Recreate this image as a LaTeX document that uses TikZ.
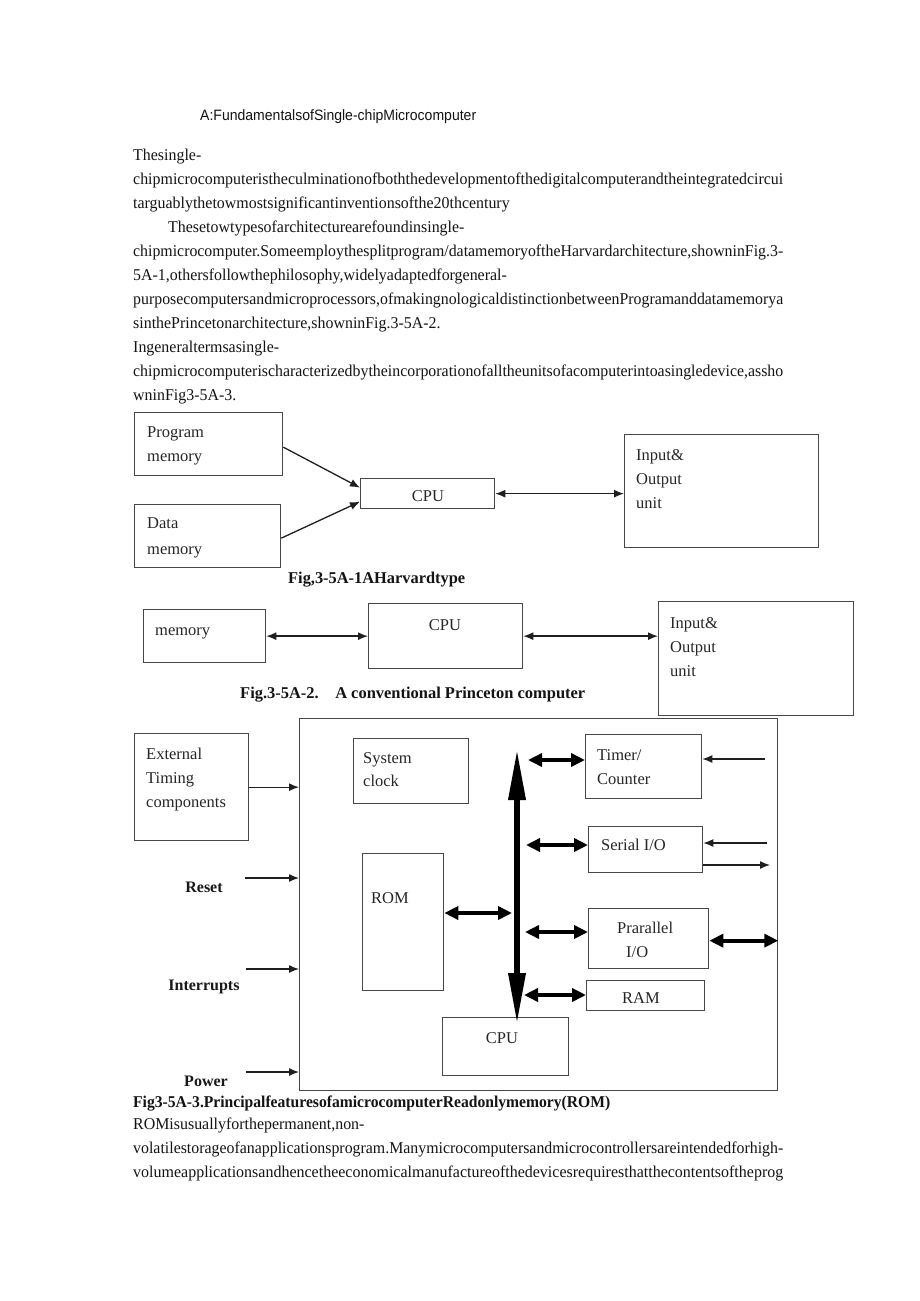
\documentclass[tikz,border=0pt]{standalone}
\usepackage{fontspec}
\usepackage{graphicx}
\setmainfont{Liberation Serif}
\newfontfamily\sansf{Liberation Sans}
\usetikzlibrary{arrows.meta}
\newcommand\bodyf{\fontsize{16.5}{19}\selectfont}
\newcommand\diagf{\fontsize{16.5}{19}\selectfont}
\newlength\reflen
\newcommand\bodyscale{1}
\newcommand\bl[1]{\scalebox{\bodyscale}[1]{\bodyf #1}}
\newcommand\fl[1]{\resizebox{650pt}{\height}{\bodyf #1}}
\tikzset{
  txt/.style={anchor=base west, inner sep=0pt, text=black!92},
  lbl/.style={anchor=base west, inner sep=0pt, font=\diagf, text=black!85},
  clbl/.style={anchor=base, inner sep=0pt, font=\diagf, text=black!85},
  blbl/.style={anchor=base, inner sep=0pt, font=\fontsize{16}{18}\selectfont\bfseries, text=black!90},
  box/.style={draw=black!72, line width=1.3pt, anchor=north west, inner sep=0pt},
  tarrow/.style={draw=black!88, line width=1.3pt, -{Latex[length=10pt,width=8pt]}},
  tdarrow/.style={draw=black!88, line width=1.4pt, {Latex[length=10pt,width=8pt]}-{Latex[length=10pt,width=8pt]}},
  thk/.style={draw=black, line width=4pt, {Triangle[length=14pt,width=13pt]}-{Triangle[length=14pt,width=13pt]}},
  bus/.style={draw=black, line width=6.5pt, {Triangle[length=52pt,width=16pt]}-{Triangle[length=52pt,width=16pt]}},
}
\begin{document}%
\settowidth\reflen{\normalfont\bodyf chipmicrocomputeristheculminationofboththedevelopmentofthedigitalcomputerandtheintegratedcircui}%
\pgfmathsetmacro\bodyscale{650/\reflen}%
\begin{tikzpicture}[x=1pt,y=-1pt]
\useasboundingbox[fill=white] (0,0) rectangle (920,1301);
% ---------- title and text ----------
\node[txt] (title) at (200,120) {\resizebox{276pt}{\height}{\sansf\fontsize{15}{17}\selectfont A:FundamentalsofSingle-chipMicrocomputer}};
\node[txt] (l1) at (133,160) {\bl{Thesingle-}};
\node[txt] (l2) at (133,184) {\fl{chipmicrocomputeristheculminationofboththedevelopmentofthedigitalcomputerandtheintegratedcircui}};
\node[txt] (l3) at (133,208) {\bl{targuablythetowmostsignificantinventionsofthe20thcentury}};
\node[txt] (l4) at (168,232) {\bl{Thesetowtypesofarchitecturearefoundinsingle-}};
\node[txt] (l5) at (133,256) {\fl{chipmicrocomputer.Someemploythesplitprogram/datamemoryoftheHarvardarchitecture,showninFig.3-}};
\node[txt] (l6) at (133,280) {\bl{5A-1,othersfollowthephilosophy,widelyadaptedforgeneral-}};
\node[txt] (l7) at (133,304) {\fl{purposecomputersandmicroprocessors,ofmakingnologicaldistinctionbetweenProgramanddatamemorya}};
\node[txt] (l8) at (133,328) {\bl{sinthePrincetonarchitecture,showninFig.3-5A-2.}};
\node[txt] (l9) at (133,352) {\bl{Ingeneraltermsasingle-}};
\node[txt] (l10) at (133,376) {\fl{chipmicrocomputerischaracterizedbytheincorporationofalltheunitsofacomputerintoasingledevice,assho}};
\node[txt] (l11) at (133,400) {\bl{wninFig3-5A-3.}};
% ---------- Fig 1 ----------
\node[box, minimum width=148pt, minimum height=63pt] (pm) at (134,412) {};
\node[lbl] (pm1) at (147,437) {Program};
\node[lbl] (pm2) at (147,461) {memory};
\node[box, minimum width=146pt, minimum height=63pt] (dm) at (134,504) {};
\node[lbl] (dm1) at (147,528) {Data};
\node[lbl] (dm2) at (147,554) {memory};
\node[box, minimum width=134pt, minimum height=30pt] (cpu1) at (360,478) {};
\node[clbl] (cpu1t) at (428,501) {CPU};
\node[box, minimum width=194pt, minimum height=113pt] (io1) at (624,434) {};
\node[lbl] (io1a) at (636,460) {Input\&};
\node[lbl] (io1b) at (636,484) {Output};
\node[lbl] (io1c) at (636,508) {unit};
\draw[tarrow] ([yshift=-3pt]pm.east) -- ([yshift=6pt]cpu1.west);
\draw[tarrow] ([yshift=-2pt]dm.east) -- ([yshift=-8pt]cpu1.west);
\draw[tdarrow] (cpu1.east) -- (cpu1.east -| io1.west);
\node[txt] (cap1) at (288,583) {\resizebox{177pt}{\height}{\bodyf\bfseries Fig,3-5A-1AHarvardtype}};
% ---------- Fig 2 ----------
\node[box, minimum width=122pt, minimum height=53pt] (mem2) at (143,609) {};
\node[lbl] (mem2t) at (155,635) {memory};
\node[box, minimum width=154pt, minimum height=65pt] (cpu2) at (368,603) {};
\node[clbl] (cpu2t) at (445,630) {CPU};
\node[box, minimum width=195pt, minimum height=114pt] (io2) at (658,601) {};
\node[lbl] (io2a) at (670,628) {Input\&};
\node[lbl] (io2b) at (670,652) {Output};
\node[lbl] (io2c) at (670,676) {unit};
\draw[tdarrow] (mem2.east) -- (mem2.east -| cpu2.west);
\draw[tdarrow] (cpu2.east) -- (cpu2.east -| io2.west);
\node[txt] (cap2) at (240,698) {\resizebox{345pt}{\height}{\fontsize{16.5}{19}\selectfont\bfseries Fig.3-5A-2.\quad A conventional Princeton computer}};
% ---------- Fig 3 ----------
\node[box, minimum width=478pt, minimum height=372pt] (chip) at (299,718) {};
\node[box, minimum width=114pt, minimum height=107pt] (ext) at (134,733) {};
\node[lbl] (ext1) at (146,759) {External};
\node[lbl] (ext2) at (146,783) {Timing};
\node[lbl] (ext3) at (146,807) {components};
\draw[tarrow] (ext.east) -- (ext.east -| chip.west);
\node[blbl] (reset) at (204,892) {Reset};
\node[blbl] (intr) at (204,990) {Interrupts};
\node[blbl] (power) at (206,1086) {Power};
\coordinate (rsA) at (245,878);
\coordinate (inA) at (246,969);
\coordinate (pwA) at (246,1072);
\draw[tarrow] (rsA) -- (rsA -| chip.west);
\draw[tarrow] (inA) -- (inA -| chip.west);
\draw[tarrow] (pwA) -- (pwA -| chip.west);
\node[box, minimum width=115pt, minimum height=65pt] (clk) at (353,738) {};
\node[lbl] (clk1) at (363,763) {System};
\node[lbl] (clk2) at (363,786) {clock};
\node[box, minimum width=81pt, minimum height=137pt] (rom) at (362,853) {};
\node[lbl] (romt) at (371,903) {ROM};
\node[box, minimum width=116pt, minimum height=64pt] (timer) at (585,734) {};
\node[lbl] (timer1) at (597,760) {Timer/};
\node[lbl] (timer2) at (597,784) {Counter};
\node[box, minimum width=114pt, minimum height=46pt] (serial) at (588,826) {};
\node[lbl] (serialt) at (601,850) {Serial I/O};
\node[box, minimum width=120pt, minimum height=60pt] (par) at (588,908) {};
\node[lbl] (par1) at (617,933) {Prarallel};
\node[lbl] (par2) at (626,957) {I/O};
\node[box, minimum width=118pt, minimum height=30pt] (ram) at (586,980) {};
\node[clbl] (ramt) at (641,1003) {RAM};
\node[box, minimum width=126pt, minimum height=58pt] (cpu3) at (442,1017) {};
\node[clbl] (cpu3t) at (502,1043) {CPU};
% bus
\coordinate (busT) at (517,748);
\coordinate (busB) at (517,1025);
\draw[bus] (busT) -- (busB);
\coordinate (tL) at (528,760);
\coordinate (sL) at (526,845);
\coordinate (pL) at (525,932);
\coordinate (raL) at (524,995);
\coordinate (roR) at (512,913);
\draw[thk] (tL) -- (tL -| timer.west);
\draw[thk] (sL) -- (sL -| serial.west);
\draw[thk] (pL) -- (pL -| par.west);
\draw[thk] (raL) -- (raL -| ram.west);
\draw[thk] (rom.east |- roR) -- (roR);
\draw[thk] ([yshift=-2pt]par.east) -- ([yshift=-2pt]par.east -| chip.east);
\coordinate (tin) at (765,759);
\coordinate (sin) at (767,843);
\coordinate (sout) at (770,865);
\draw[tarrow] (tin) -- (tin -| timer.east);
\draw[tarrow] (sin) -- (sin -| serial.east);
\draw[tarrow] (sout -| serial.east) -- (sout);
\node[txt] (cap3) at (133,1107) {\resizebox{477pt}{\height}{\bodyf\bfseries Fig3-5A-3.PrincipalfeaturesofamicrocomputerReadonlymemory(ROM)}};
\node[txt] (b1) at (133,1129) {\bl{ROMisusuallyforthepermanent,non-}};
\node[txt] (b2) at (133,1153) {\fl{volatilestorageofanapplicationsprogram.Manymicrocomputersandmicrocontrollersareintendedforhigh-}};
\node[txt] (b3) at (133,1177) {\fl{volumeapplicationsandhencetheeconomicalmanufactureofthedevicesrequiresthatthecontentsoftheprog}};
\end{tikzpicture}
\end{document}
